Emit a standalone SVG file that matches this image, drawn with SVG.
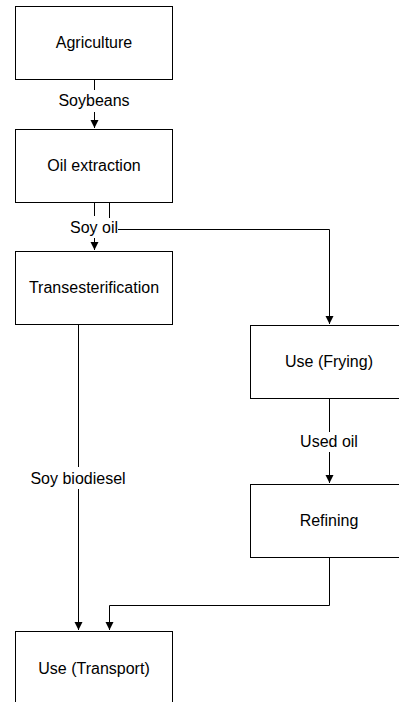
<svg xmlns="http://www.w3.org/2000/svg" width="399" height="702" viewBox="0 0 399 702">
<style>
.box{fill:#fff;stroke:#000;stroke-width:1}
.t{font-family:"Liberation Sans",Arial,sans-serif;font-size:16px;fill:#000;text-anchor:middle}
.c{fill:none;stroke:#000;stroke-width:1}
</style>
<defs>
<marker id="ah" markerUnits="userSpaceOnUse" markerWidth="10" markerHeight="12" refX="8" refY="4" orient="auto">
<path d="M0,0 L8,4 L0,8 Z" fill="#000"/>
</marker>
</defs>
<rect width="399" height="702" fill="#fff"/>
<g id="connectors">
<line class="c" x1="94.5" y1="79" x2="94.5" y2="90"/>
<line class="c" x1="94.5" y1="112" x2="94.5" y2="128" marker-end="url(#ah)"/>
<line class="c" x1="94.5" y1="202" x2="94.5" y2="216"/>
<line class="c" x1="109.5" y1="202" x2="109.5" y2="218"/>
<line class="c" x1="94.5" y1="238" x2="94.5" y2="250" marker-end="url(#ah)"/>
<polyline class="c" points="118,229.5 329.5,229.5 329.5,324" marker-end="url(#ah)"/>
<line class="c" x1="329.5" y1="398" x2="329.5" y2="432"/>
<line class="c" x1="329.5" y1="452" x2="329.5" y2="483" marker-end="url(#ah)"/>
<line class="c" x1="78.5" y1="324" x2="78.5" y2="467"/>
<line class="c" x1="78.5" y1="489" x2="78.5" y2="630" marker-end="url(#ah)"/>
<polyline class="c" points="329.5,558 329.5,605.5 109.5,605.5 109.5,630" marker-end="url(#ah)"/>
<text class="t" x="94" y="106">Soybeans</text>
<text class="t" x="94" y="233">Soy oil</text>
<text class="t" x="329" y="447">Used oil</text>
<text class="t" x="78" y="484">Soy biodiesel</text>
</g>
<g id="agriculture">
<rect class="box" x="15.5" y="6.5" width="157" height="73"/>
<text class="t" x="94" y="48">Agriculture</text>
</g>
<g id="oil-extraction">
<rect class="box" x="15.5" y="129.5" width="157" height="73"/>
<text class="t" x="94" y="171">Oil extraction</text>
</g>
<g id="transesterification">
<rect class="box" x="15.5" y="251.5" width="157" height="73"/>
<text class="t" x="94" y="293">Transesterification</text>
</g>
<g id="use-frying">
<rect class="box" x="250.5" y="325.5" width="157" height="73"/>
<text class="t" x="329" y="367">Use (Frying)</text>
</g>
<g id="refining">
<rect class="box" x="250.5" y="484.5" width="157" height="73"/>
<text class="t" x="329" y="526">Refining</text>
</g>
<g id="use-transport">
<rect class="box" x="15.5" y="631.5" width="157" height="73"/>
<text class="t" x="94" y="674">Use (Transport)</text>
</g>
</svg>
